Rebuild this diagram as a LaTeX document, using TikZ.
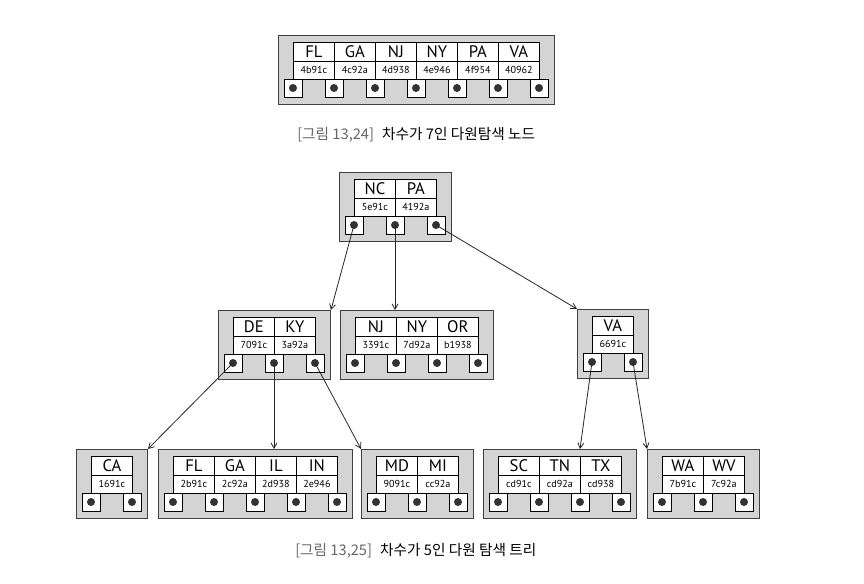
\documentclass[tikz,border=0pt]{standalone}
\usepackage{fontspec}
\setmainfont{PT Sans}
\newfontfamily\krfont{Noto Sans CJK KR}
\usetikzlibrary{arrows.meta,calc}
\tikzset{
  mwbox/.style={draw=black!75, fill=black!17, line width=0.7pt, inner sep=0pt, anchor=north west},
  keycell/.style={draw=black, fill=white, line width=0.6pt, minimum width=30.75pt, minimum height=14.25pt, inner sep=0pt, anchor=north west, font=\fontsize{12.5}{13}\selectfont},
  valcell/.style={draw=black, fill=white, line width=0.6pt, minimum width=30.75pt, minimum height=13.5pt, inner sep=0pt, anchor=north west, font=\fontsize{7.6}{8}\selectfont},
  ptrbox/.style={draw=black, fill=white, line width=0.6pt, minimum size=13.5pt, inner sep=0pt},
  ptrdot/.style={fill=black!80},
  arr/.style={-{Straight Barb[length=4pt,width=4.5pt]}, line width=0.6pt, draw=black!85},
  caplab/.style={font=\krfont\fontsize{11}{13}\selectfont, inner sep=0pt}
}
\newcommand{\mwnode}[5]{%
  \pgfmathsetmacro\mwwid{(#4*41+30)*0.75}%
  \node[mwbox, minimum width=\mwwid pt, minimum height=51.75pt] (#1) at (#2-15,#3-7) {};
  \foreach \kk/\vv [count=\ii from 0] in {#5} {
    \node[keycell] (#1k\ii) at ({#2+\ii*41},#3) {\kk};
    \node[valcell] (#1v\ii) at ({#2+\ii*41},#3+19) {\vv};
  }
  \foreach \jj in {0,...,#4} {
    \node[ptrbox] (#1p\jj) at ({#2+\jj*41},#3+46) {};
    \fill[ptrdot] (#1p\jj.center) circle (3pt);
  }
}
\begin{document}
\begin{tikzpicture}[x=0.75pt,y=-0.75pt]
\useasboundingbox (0,0) rectangle (864,584);
% figure 13.24
\mwnode{T}{293}{42}{6}{FL/4b91c,GA/4c92a,NJ/4d938,NY/4e946,PA/4f954,VA/40962}
\node[caplab, anchor=west] (cap1) at (297,135) {\textcolor{black!60}{[그림 13,24]}\hspace{0.55em}차수가 7인 다원탐색 노드};
% figure 13.25
\mwnode{R}{354}{179}{2}{NC/5e91c,PA/4192a}
\mwnode{DK}{233}{317}{2}{DE/7091c,KY/3a92a}
\mwnode{NJ}{355}{317}{3}{NJ/3391c,NY/7d92a,OR/b1938}
\mwnode{VA}{592}{316}{1}{VA/6691c}
\mwnode{CA}{91}{456}{1}{CA/1691c}
\mwnode{FL}{173}{456}{4}{FL/2b91c,GA/2c92a,IL/2d938,IN/2e946}
\mwnode{MD}{376}{456}{2}{MD/9091c,MI/cc92a}
\mwnode{SC}{498}{456}{3}{SC/cd91c,TN/cd92a,TX/cd938}
\mwnode{WA}{662}{456}{2}{WA/7b91c,WV/7c92a}
\draw[arr] (Rp0.center) -- (DK.north east);
\draw[arr] (Rp1.center) -- (Rp1 |- NJ.north);
\draw[arr] (Rp2.center) -- (VA.north west);
\draw[arr] (DKp0.center) -- (CA.north east);
\draw[arr] (DKp1.center) -- (DKp1 |- FL.north);
\draw[arr] (DKp2.center) -- (MD.north west);
\draw[arr] (VAp0.center) -- (SCp2 |- SC.north);
\draw[arr] (VAp1.center) -- (WA.north west);
\node[caplab, anchor=west] (cap2) at (295,551) {\textcolor{black!60}{[그림 13,25]}\hspace{0.55em}차수가 5인 다원 탐색 트리};
\end{tikzpicture}
\end{document}
